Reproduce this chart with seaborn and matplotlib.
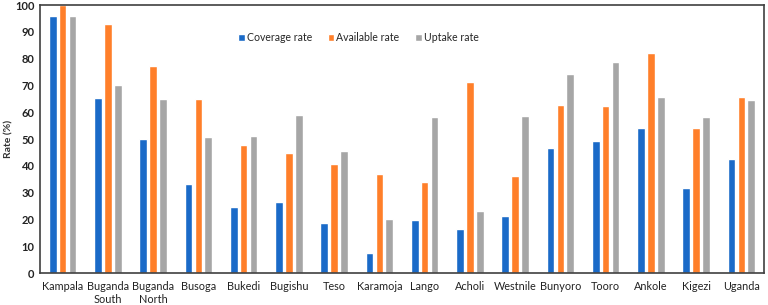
import matplotlib
matplotlib.use("Agg")
import matplotlib.pyplot as plt
import seaborn as sns
import pandas as pd

regions = ["Kampala", "Buganda\nSouth", "Buganda\nNorth", "Busoga", "Bukedi", "Bugishu", "Teso",
           "Karamoja", "Lango", "Acholi", "Westnile", "Bunyoro", "Tooro", "Ankole", "Kigezi", "Uganda"]
coverage = [96, 65.4, 49.9, 33.1, 24.5, 26.6, 18.5, 7.3, 19.8, 16.4, 21.3, 46.6, 49.3, 54.0, 31.6, 42.4]
available = [100, 92.8, 77.2, 64.8, 47.9, 44.9, 40.6, 37.1, 34.1, 71.3, 36.1, 62.8, 62.4, 82.1, 54.0, 65.8]
uptake = [96, 70.1, 64.8, 50.9, 51.2, 59.0, 45.5, 20.1, 58.1, 23.3, 58.7, 74.3, 78.7, 65.8, 58.3, 64.6]
series_names = ["Coverage rate", "Available rate", "Uptake rate"]
colors = ["#1A6AC8", "#FF7F2A", "#A6A6A6"]

rows = []
for name, vals in zip(series_names, [coverage, available, uptake]):
    for r, v in zip(regions, vals):
        rows.append({"Region": r, "Series": name, "Rate": v})
df = pd.DataFrame(rows)

sns.set_style("white")
plt.rcParams["font.family"] = ["Lato", "DejaVu Sans"]

fig = plt.figure(figsize=(7.68, 3.05), dpi=100)
ax = fig.add_axes([40/768, 1-273/305, 724/768, 268/305])
sns.barplot(data=df, x="Region", y="Rate", hue="Series", order=regions, hue_order=series_names,
            palette=colors, width=0.66, gap=0.23, ax=ax, saturation=1, errorbar=None)

ax.set_xlim(-0.5, len(regions) - 0.5)
ax.set_ylim(0, 100)
ax.set_yticks(range(0, 101, 10))
ax.set_xlabel("")
ax.set_ylabel("Rate (%)", fontsize=7.5, fontweight="bold", color="#333333")
ax.yaxis.set_label_coords(-0.037, 0.5)
ax.tick_params(axis="x", length=0, labelsize=7.8, colors="#222222", pad=6)
ax.tick_params(axis="y", length=0, labelsize=8, colors="#222222", pad=4)
for lab in ax.get_yticklabels():
    lab.set_fontweight("bold")
for s in ax.spines.values():
    s.set_visible(True)
    s.set_color("#404040")
    s.set_linewidth(1.2)

ax.legend(loc="center", bbox_to_anchor=(0.44, 0.877), ncol=3, frameon=False, fontsize=7.6,
          handlelength=0.6, handleheight=0.6, handletextpad=0.2, columnspacing=1.5, title=None)

fig.savefig("out.png", dpi=100)
